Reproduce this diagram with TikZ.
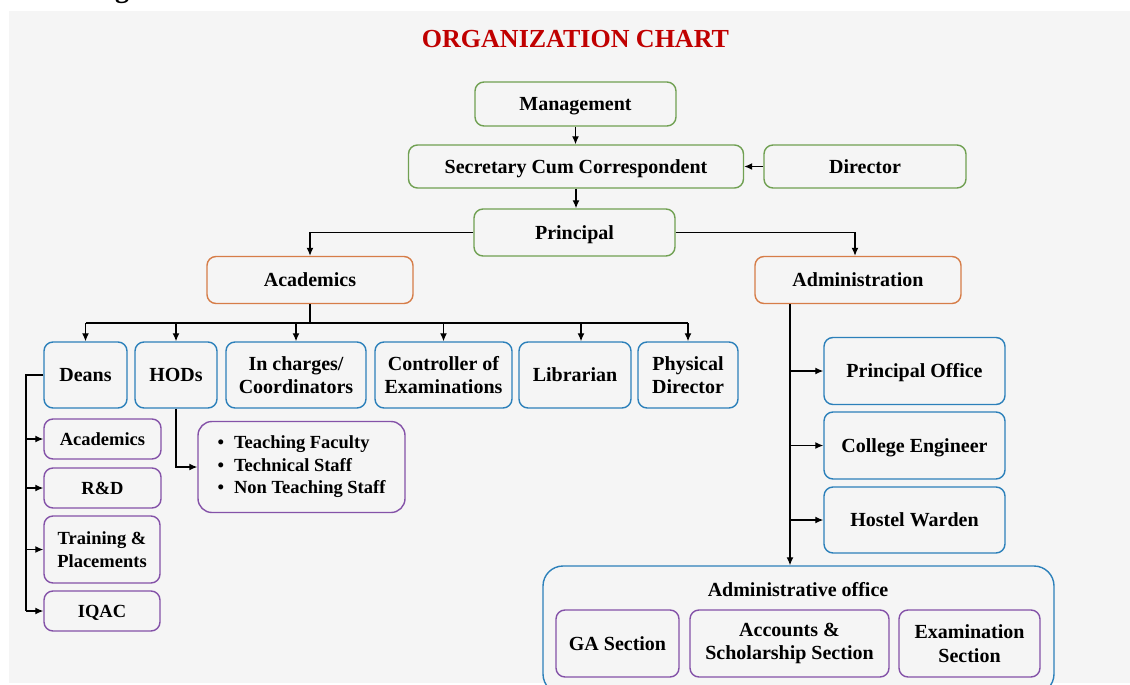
\documentclass[tikz,border=0pt]{standalone}
\usepackage{fontspec}
\setmainfont{Liberation Serif}
\usetikzlibrary{arrows.meta}
\definecolor{bgc}{RGB}{245,245,245}
\definecolor{gborder}{RGB}{112,160,82}
\definecolor{oborder}{RGB}{214,125,72}
\definecolor{bborder}{RGB}{44,128,186}
\definecolor{pborder}{RGB}{132,82,168}
\definecolor{titlered}{RGB}{192,0,0}
\begin{document}
\begin{tikzpicture}[x=1pt,y=-1pt,
  box/.style={draw, rounded corners=9pt, line width=1.4pt, inner sep=0pt, align=center,
    font=\fontsize{20}{23.5}\selectfont\bfseries, fill=bgc, text=black},
  gbox/.style={box, draw=gborder},
  obox/.style={box, draw=oborder},
  bbox/.style={box, draw=bborder},
  pbox/.style={box, draw=pborder},
  psmall/.style={pbox, font=\fontsize{18.5}{22.5}\selectfont\bfseries},
  one/.style={text height=14.5pt, text depth=1.5pt},
  conn/.style={line width=1.3pt, -{Latex[length=8pt,width=7pt]}},
  plainline/.style={line width=1.3pt}]
\useasboundingbox (0,0) rectangle (1130,685);
\fill[white] (0,0) rectangle (1130,685);
\fill[bgc] (9,11) rectangle (1130,683);
% cut-off heading fragment
\begin{scope}
\clip (0,0) rectangle (1130,10);
\node[anchor=base, inner sep=0pt, font=\fontsize{28}{28}\selectfont\bfseries] (frag) at (122,-2) {g};
\end{scope}
% title
\node[font=\fontsize{26}{26}\selectfont\bfseries, text=titlered, inner sep=0pt] (title) at (575.5,39.5) {ORGANIZATION CHART};
% top
\node[gbox, one, minimum width=201, minimum height=44] (mgmt) at (575.5,104) {Management};
\node[gbox, one, minimum width=335, minimum height=43] (sec) at (576,166.5) {Secretary Cum Correspondent};
\node[gbox, one, minimum width=202, minimum height=43] (dir) at (865,166.5) {Director};
\node[gbox, one, minimum width=201, minimum height=47] (prin) at (574.5,232.5) {Principal};
\node[obox, one, minimum width=206, minimum height=47] (acad) at (310,280) {Academics};
\node[obox, one, minimum width=206, minimum height=47] (admin) at (858,280) {Administration};
% academic row
\node[bbox, one, minimum width=83, minimum height=66] (deans) at (85.5,375) {Deans};
\node[bbox, one, minimum width=82, minimum height=66] (hods) at (176,375) {HODs};
\node[bbox, minimum width=140, minimum height=66] (inch) at (296,375) {In charges/\\Coordinators};
\node[bbox, minimum width=137, minimum height=66] (ctrl) at (443.5,375) {Controller of\\Examinations};
\node[bbox, one, minimum width=112, minimum height=66] (lib) at (575,375) {Librarian};
\node[bbox, minimum width=100, minimum height=66] (phys) at (688,375) {Physical\\Director};
% deans children
\node[psmall, one, minimum width=117, minimum height=40] (pacad) at (102.5,439) {Academics};
\node[psmall, one, minimum width=117, minimum height=40] (prd) at (102.5,488) {R\&D};
\node[psmall, minimum width=116, minimum height=67] (ptrain) at (102,549.5) {Training \&\\Placements};
\node[psmall, one, minimum width=116, minimum height=40] (piqac) at (102,611) {IQAC};
% hods children
\node[psmall, rounded corners=14pt, minimum width=207, minimum height=91, align=left] (staff) at (301.5,467)
  {\textbullet\hspace{10pt}Teaching Faculty\\\textbullet\hspace{10pt}Technical Staff\\\textbullet\hspace{10pt}Non Teaching Staff};
% administration
\node[bbox, one, minimum width=181, minimum height=67] (po) at (914.5,371) {Principal Office};
\node[bbox, one, minimum width=181, minimum height=67] (ce) at (914.5,445.5) {College Engineer};
\node[bbox, one, minimum width=181, minimum height=66] (hw) at (914.5,520) {Hostel Warden};
\node[bbox, rounded corners=20pt, minimum width=511, minimum height=128] (aoff) at (798.5,630) {};
\node[font=\fontsize{20}{23.5}\selectfont\bfseries, inner sep=0pt, one] (aoffl) at (798,590) {Administrative office};
\node[pbox, one, minimum width=123, minimum height=67] (ga) at (617.5,643.5) {GA Section};
\node[pbox, minimum width=199, minimum height=67] (acc) at (789.5,643.5) {Accounts \&\\Scholarship Section};
\node[pbox, minimum width=141, minimum height=67] (exam) at (969.5,643.5) {Examination\\Section};
% connectors
\draw[conn] (mgmt.south) -- (mgmt.south |- sec.north);
\draw[conn] (dir.west) -- (sec.east);
\draw[conn] (sec.south) -- (sec.south |- prin.north);
\draw[conn] (prin.west) -| (acad.north);
\draw[conn] (prin.east) -| ([xshift=-3pt]admin.north);
\coordinate (bus) at (0,323);
\draw[plainline] (acad.south) -- (acad.south |- bus);
\draw[plainline] (deans.north |- bus) -- (phys.north |- bus);
\foreach \n in {deans,hods,inch,ctrl,phys} \draw[conn] (\n.north |- bus) -- (\n.north);
\draw[conn] ([xshift=6pt]lib.north |- bus) -- ([xshift=6pt]lib.north);
\coordinate (dx) at (26,0);
\draw[plainline] (deans.west) -- (deans.west -| dx) -- (piqac.west -| dx);
\foreach \n in {pacad,prd,ptrain,piqac} \draw[conn] (\n.west -| dx) -- (\n.west);
\draw[conn] (hods.south) |- (staff.west);
\coordinate (ax) at (790,0);
\draw[conn] (admin.south -| ax) -- (aoff.north -| ax);
\foreach \n in {po,ce,hw} \draw[conn] (\n.west -| ax) -- (\n.west);
\end{tikzpicture}
\end{document}
